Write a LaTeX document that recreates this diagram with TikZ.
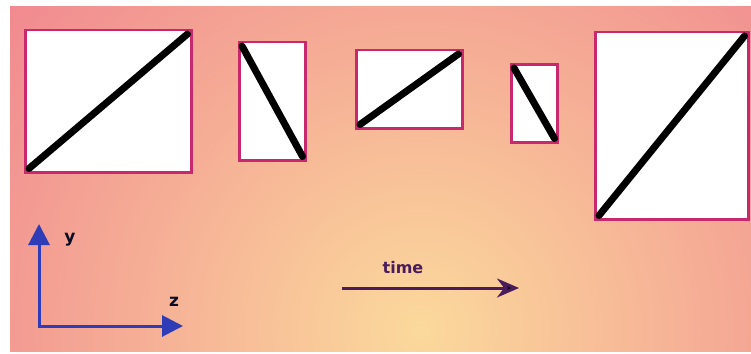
\documentclass[tikz,border=0pt]{standalone}
\usepackage{fontspec}
\setmainfont{DejaVu Sans}
\usetikzlibrary{arrows.meta}
\definecolor{bgpink}{HTML}{F0848F}
\definecolor{bgyellow}{HTML}{FBD99C}
\definecolor{frame}{HTML}{C8286E}
\definecolor{axisblue}{HTML}{2F3CB8}
\definecolor{timepurple}{HTML}{4A1C5C}
\tikzset{
  frame box/.style={draw=frame, line width=2.5pt, fill=white, inner sep=0pt, anchor=north west},
  diag/.style={draw=black, line width=7pt, line cap=round},
  axis/.style={draw=axisblue, line width=3pt, -{Triangle[length=21pt,width=21pt]}},
  timearrow/.style={draw=timepurple, line width=3pt, -{Stealth[length=22pt,width=19pt,fill=black!85!timepurple]}},
  lbl/.style={font=\bfseries\fontsize{17}{17}\selectfont, inner sep=0pt}
}
\begin{document}
\begin{tikzpicture}[x=1pt,y=-1pt]
\useasboundingbox (0,0) rectangle (751,353);
\fill[white] (0,0) rectangle (751,353);
\begin{scope}
\clip (10,7) rectangle (751,351);
\fill[bgpink] (10,7) rectangle (751,351);
\shade[inner color=bgyellow, outer color=bgpink] (420,330) circle (560);
\end{scope}
% boxes
\node[frame box, minimum width=166pt, minimum height=142pt] (b1) at (24,29) {};
\node[frame box, minimum width=66pt, minimum height=118pt] (b2) at (238,41) {};
\node[frame box, minimum width=106pt, minimum height=78pt] (b3) at (355,49) {};
\node[frame box, minimum width=46pt, minimum height=78pt] (b4) at (510,63) {};
\node[frame box, minimum width=153pt, minimum height=187pt] (b5) at (594,31) {};
% diagonals
\draw[diag] ([shift={(5,-5)}]b1.south west) -- ([shift={(-5,5)}]b1.north east);
\draw[diag] ([shift={(4,5)}]b2.north west) -- ([shift={(-4,-5)}]b2.south east);
\draw[diag] ([shift={(5,-5)}]b3.south west) -- ([shift={(-5,5)}]b3.north east);
\draw[diag] ([shift={(4,5)}]b4.north west) -- ([shift={(-4,-5)}]b4.south east);
\draw[diag] ([shift={(5,-5)}]b5.south west) -- ([shift={(-5,5)}]b5.north east);
% axes
\coordinate (o) at (39,326);
\coordinate (ytip) at (39,224);
\coordinate (ztip) at (183,326);
\draw[axis] ([yshift=1.5pt]o) -- (ytip);
\draw[axis] ([xshift=-1.5pt]o) -- (ztip);
\node[lbl, text=black!80!axisblue] (ylab) at (70,240) {y};
\node[lbl, text=black!80!axisblue] (zlab) at (174,302) {z};
% time
\coordinate (t0) at (342,288);
\coordinate (t1) at (519,288);
\draw[timearrow] (t0) -- (t1);
\node[lbl, text=timepurple, font=\bfseries\fontsize{16}{16}\selectfont] (tlab) at (403,268) {time};
\end{tikzpicture}
\end{document}
